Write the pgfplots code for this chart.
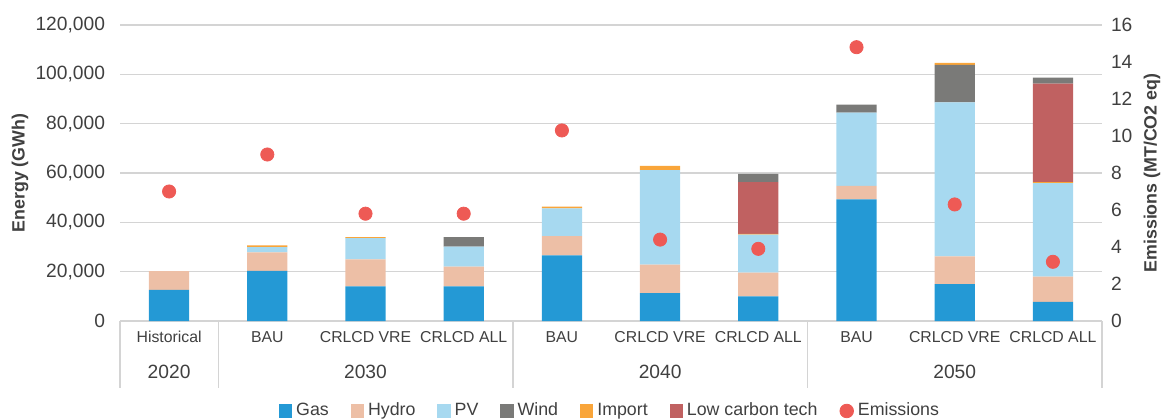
\documentclass[border=0pt]{standalone}
\usepackage{fontspec}
\setmainfont{Liberation Sans}
\usepackage{pgfplots}
\usepackage{pgfplotstable}
\pgfplotsset{compat=1.18}

\definecolor{gasc}{HTML}{2499D5}
\definecolor{hydroc}{HTML}{EDBFA6}
\definecolor{pvc}{HTML}{A7D9F0}
\definecolor{windc}{HTML}{7A7A78}
\definecolor{importc}{HTML}{F9A53A}
\definecolor{lowc}{HTML}{C06161}
\definecolor{emis}{HTML}{EE5A55}
\definecolor{gridc}{HTML}{D4D4D4}
\definecolor{txt}{HTML}{404040}

% segment heights in GWh, emissions in MT CO2 eq
\pgfplotstableread{
x gas   hydro pv    wind  import low   windb em
0 12600 7600  0     0     0      0     0     7.0
1 20300 7500  2200  0     700    0     0     9.0
2 14000 11000 8600  0     400    0     0     5.8
3 14000 8000  8200  0     0      0     3800  5.8
4 26600 7800  11300 0     700    0     0     10.3
5 11300 11600 38300 0     1700   0     0     4.4
6 10000 9600  15400 0     300    21000 3300  3.9
7 49300 5500  29700 3200  0      0     0     14.8
8 15000 11200 62400 15200 800    0     0     6.3
9 7800  10200 37900 0     400    39900 2500  3.2
}\data

\pgfplotsset{
  sq/.style={fill=#1, draw=none,
    legend image code/.code={\fill[fill=#1] (0bp,-3.3bp) rectangle (6.6bp,3.3bp);}},
}
\def\numfont{\fontsize{9.6bp}{11bp}\selectfont}

\begin{document}
\begin{tikzpicture}[font=\fontsize{8.9bp}{10bp}\selectfont, text=txt]
\path[use as bounding box] (-60bp,-49.5bp) rectangle (522bp,160.5bp);
\begin{axis}[
  at={(0,0)}, anchor=south west,
  width=491bp, height=148bp, scale only axis,
  xmin=-0.5, xmax=9.5, ymin=0, ymax=120000,
  ybar stacked, bar width=0.41,
  clip=false,
  axis line style={draw=none},
  major tick length=0pt,
  xtick={0,...,9},
  xticklabels={Historical,BAU,CRLCD VRE,CRLCD ALL,BAU,CRLCD VRE,CRLCD ALL,BAU,CRLCD VRE,CRLCD ALL},
  xticklabel style={yshift=-1bp, text=txt, font=\fontsize{7.9bp}{10bp}\selectfont,
    text height=6bp, text depth=1.5bp},
  ytick={0,20000,...,120000},
  yticklabel style={xshift=-4bp, text=txt, font=\numfont},
  scaled y ticks=false,
  /pgf/number format/.cd, fixed, 1000 sep={,}, assume math mode=true, /pgfplots/.cd,
  ymajorgrids, major grid style={gridc, line width=0.7pt},
  legend style={at={(0.5,-0.304)}, anchor=center, draw=none, fill=none,
    legend columns=-1, text=txt,
    /tikz/every even column/.append style={column sep=9bp}},
]
\addplot[sq=gasc] table[x=x,y=gas]{\data};
\addlegendentry{Gas}
\addplot[sq=hydroc] table[x=x,y=hydro]{\data};
\addlegendentry{Hydro}
\addplot[sq=pvc] table[x=x,y=pv]{\data};
\addlegendentry{PV}
\addplot[sq=windc] table[x=x,y=wind]{\data};
\addlegendentry{Wind}
\addplot[sq=importc] table[x=x,y=import]{\data};
\addlegendentry{Import}
\addplot[sq=lowc] table[x=x,y=low]{\data};
\addlegendentry{Low carbon tech}
\addplot[sq=windc, forget plot] table[x=x,y=windb]{\data};
\addlegendimage{legend image code/.code={\fill[emis] (3.3bp,0bp) circle (3.4bp);}}
\addlegendentry{Emissions}

% category axis line and group separators
\draw[gridc, line width=0.7pt] (axis cs:-0.5,0) -- (axis cs:9.5,0);
\draw[gridc, line width=0.7pt] (axis cs:-0.5,0) -- ([yshift=-33.5bp]axis cs:-0.5,0);
\draw[gridc, line width=0.7pt] (axis cs:0.5,0) -- ([yshift=-33.5bp]axis cs:0.5,0);
\draw[gridc, line width=0.7pt] (axis cs:3.5,0) -- ([yshift=-33.5bp]axis cs:3.5,0);
\draw[gridc, line width=0.7pt] (axis cs:6.5,0) -- ([yshift=-33.5bp]axis cs:6.5,0);
\draw[gridc, line width=0.7pt] (axis cs:9.5,0) -- ([yshift=-33.5bp]axis cs:9.5,0);
\node[text=txt, font=\numfont] at ([yshift=-25.5bp]axis cs:0,0) {2020};
\node[text=txt, font=\numfont] at ([yshift=-25.5bp]axis cs:2,0) {2030};
\node[text=txt, font=\numfont] at ([yshift=-25.5bp]axis cs:5,0) {2040};
\node[text=txt, font=\numfont] at ([yshift=-25.5bp]axis cs:8,0) {2050};
\end{axis}

\begin{axis}[
  at={(0,0)}, anchor=south west,
  width=491bp, height=148bp, scale only axis,
  xmin=-0.5, xmax=9.5, ymin=0, ymax=16,
  axis x line=none,
  axis y line*=right,
  y axis line style={draw=none},
  major tick length=0pt,
  ytick={0,2,...,16},
  yticklabel style={xshift=1bp, text=txt, font=\numfont},
  /pgf/number format/assume math mode=true,
]
\addplot[only marks, mark=*, mark size=3.3bp, color=emis, mark options={draw=none}]
  table[x=x,y=em]{\data};
\end{axis}

\node[rotate=90, font=\fontsize{8.9bp}{10bp}\selectfont\bfseries, text=txt] at (-50bp,74bp) {Energy (GWh)};
\node[rotate=90, font=\fontsize{8.9bp}{10bp}\selectfont\bfseries, text=txt] at (516bp,74bp) {Emissions (MT/CO2 eq)};
\end{tikzpicture}
\end{document}
